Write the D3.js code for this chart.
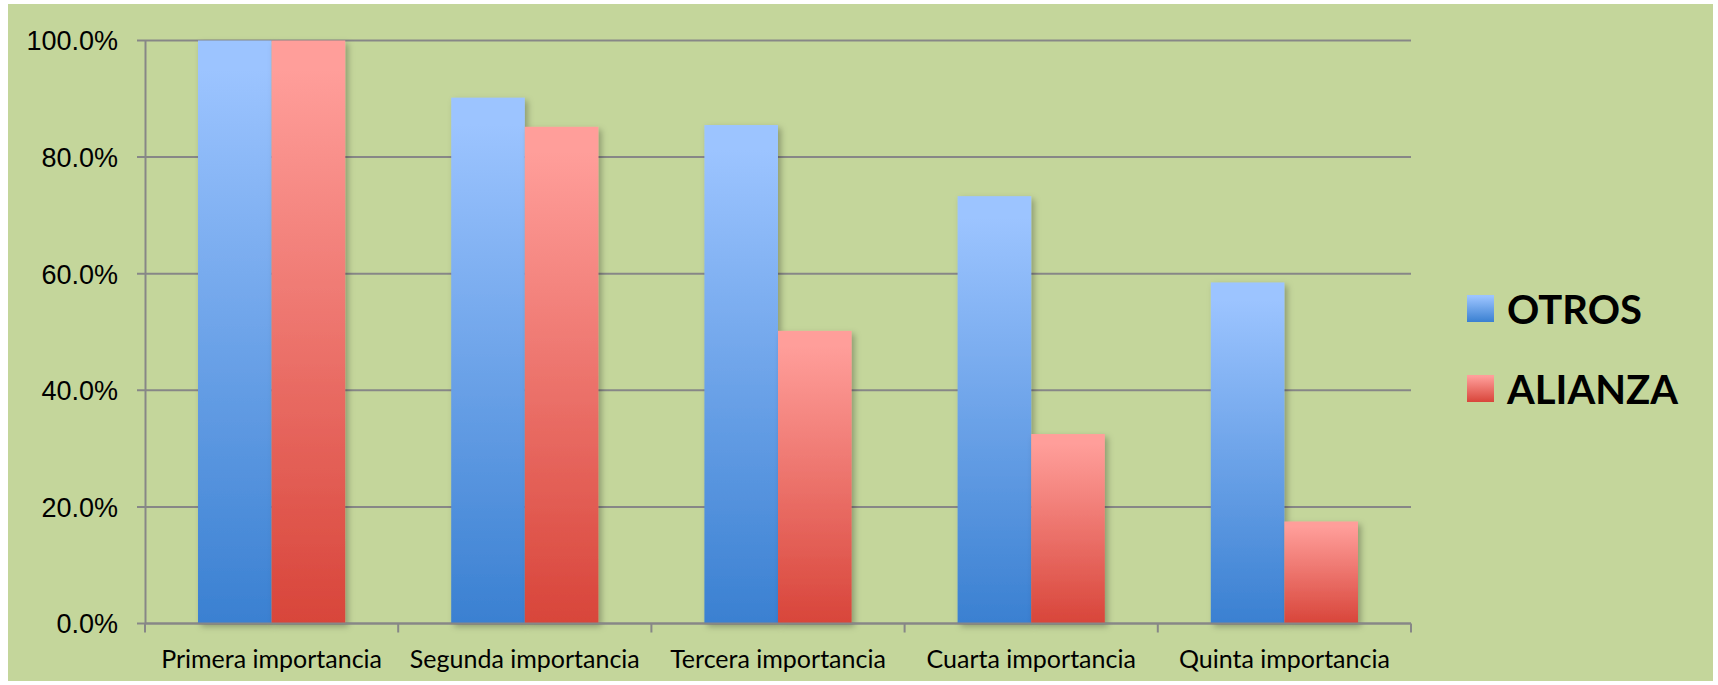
<!DOCTYPE html>
<html><head><meta charset="utf-8">
<script src="https://cdn.jsdelivr.net/npm/d3@7"></script>
<style>html,body{margin:0;padding:0;background:#fff;}svg{display:block;}</style>
</head><body>
<svg id="chart" width="1718" height="685"></svg>
<script>
const categories = ["Primera importancia","Segunda importancia","Tercera importancia","Cuarta importancia","Quinta importancia"];
const seriesNames = ["OTROS","ALIANZA"];
const otros = [100.0, 90.2, 85.5, 73.3, 58.5];
const alianza = [100.0, 85.2, 50.2, 32.5, 17.5];
const yTicks = [0, 20, 40, 60, 80, 100];

const svg = d3.select("#chart");
const plot = {left: 145, right: 1411, top: 40.5, bottom: 623.5};

svg.append("rect").attr("x", 8).attr("y", 4).attr("width", 1705).attr("height", 677).attr("fill", "#C4D69B");

const defs = svg.append("defs");
const gradDefs = [["gOtros", "#9CC4FF", "#3A80D1"], ["gAlianza", "#FF9E9A", "#D8453A"]];
gradDefs.forEach(([id, c1, c2]) => {
  const g = defs.append("linearGradient").attr("id", id).attr("x1", 0).attr("y1", 0).attr("x2", 0).attr("y2", 1);
  g.append("stop").attr("offset", "5%").attr("stop-color", c1);
  g.append("stop").attr("offset", "100%").attr("stop-color", c2);
});
const f = defs.append("filter").attr("id", "shadow").attr("x", "-20%").attr("y", "-5%").attr("width", "150%").attr("height", "115%");
f.append("feDropShadow").attr("dx", 3).attr("dy", 3).attr("stdDeviation", 3).attr("flood-color", "#000").attr("flood-opacity", 0.28);

const x0 = d3.scaleBand().domain(categories).range([plot.left, plot.right]).padding(0);
const gap = 53;
const x1 = d3.scaleBand().domain(seriesNames).range([gap, x0.bandwidth() - gap]).padding(0);
const y = d3.scaleLinear().domain([0, 100]).range([plot.bottom, plot.top]);

// gridlines
svg.append("g").selectAll("line").data(yTicks).join("line")
  .attr("x1", plot.left - 8).attr("x2", plot.right)
  .attr("y1", d => y(d)).attr("y2", d => y(d))
  .attr("stroke", "#878787").attr("stroke-width", 2);

// y axis
const yAxis = d3.axisLeft(y).tickValues(yTicks).tickFormat(d => d.toFixed(1) + "%").tickSize(0).tickPadding(27);
const ya = svg.append("g").attr("transform", `translate(${plot.left},0)`).call(yAxis);
ya.select(".domain").attr("stroke", "#878787").attr("stroke-width", 2);
ya.selectAll("text").attr("font-family", "Liberation Sans, Arial, sans-serif").attr("font-size", 27).attr("fill", "#000").attr("dy", "0.35em");

// bars
const data = categories.map((c, i) => ({cat: c, vals: [{s: "OTROS", v: otros[i], g: "gOtros"}, {s: "ALIANZA", v: alianza[i], g: "gAlianza"}]}));
const groups = svg.append("g").selectAll("g").data(data).join("g").attr("transform", d => `translate(${x0(d.cat)},0)`);
groups.selectAll("rect").data(d => d.vals).join("rect")
  .attr("x", d => x1(d.s)).attr("width", x1.bandwidth())
  .attr("y", d => y(d.v)).attr("height", d => y(0) - y(d.v))
  .attr("fill", d => `url(#${d.g})`).attr("filter", "url(#shadow)");

// x axis
const xa = svg.append("g").attr("transform", `translate(0,${plot.bottom})`);
xa.append("line").attr("x1", plot.left).attr("x2", plot.right).attr("y1", 0).attr("y2", 0).attr("stroke", "#878787").attr("stroke-width", 2);
const bounds = categories.map(c => x0(c)).concat([plot.right]);
xa.selectAll("line.tk").data(bounds).join("line").attr("class", "tk")
  .attr("x1", d => d).attr("x2", d => d).attr("y1", 0).attr("y2", 9).attr("stroke", "#878787").attr("stroke-width", 2);
xa.selectAll("text").data(categories).join("text")
  .attr("x", d => x0(d) + x0.bandwidth() / 2).attr("y", 44)
  .attr("text-anchor", "middle").attr("font-family", "Lato, Open Sans, sans-serif").attr("font-size", 25).attr("fill", "#000")
  .text(d => d);

// legend
const legend = svg.append("g");
const legY = [295, 375];
seriesNames.forEach((s, i) => {
  legend.append("rect").attr("x", 1467).attr("y", legY[i]).attr("width", 27).attr("height", 27).attr("fill", `url(#${gradDefs[i][0]})`);
  legend.append("text").attr("x", 1507).attr("y", legY[i] + 29).attr("font-family", "Lato, Open Sans, sans-serif")
    .attr("font-weight", "bold").attr("font-size", 40).attr("fill", "#000").text(s);
});
</script>
</body></html>
